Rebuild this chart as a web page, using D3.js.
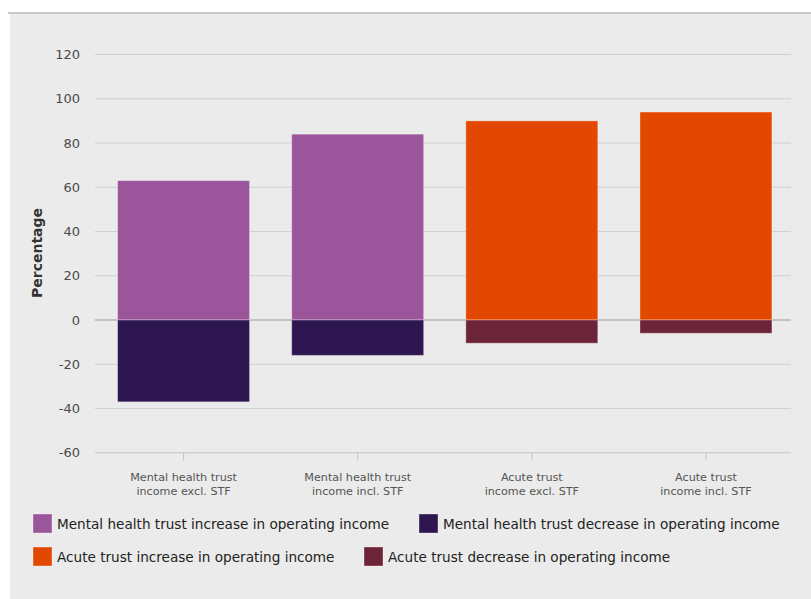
<!DOCTYPE html>
<html>
<head>
<meta charset="utf-8">
<script src="https://cdn.jsdelivr.net/npm/d3@7"></script>
<style>
  body { margin: 0; background: #fff; }
  svg { display: block; }
</style>
</head>
<body>
<svg width="811" height="599"></svg>
<script>
// categories (two-line labels)
var categories = ['Mental health trust|income excl. STF', 'Mental health trust|income incl. STF',
                  'Acute trust|income excl. STF', 'Acute trust|income incl. STF'];
var increase = [63, 84, 90, 94];
var decrease = [-37, -16, -10.5, -6];
var trustType = ['mh', 'mh', 'acute', 'acute'];
var yTicks = [-60, -40, -20, 0, 20, 40, 60, 80, 100, 120];
var legendLabels = ['Mental health trust increase in operating income',
                    'Mental health trust decrease in operating income',
                    'Acute trust increase in operating income',
                    'Acute trust decrease in operating income'];

var colors = { mh: { up: '#9b559b', down: '#2e1650' }, acute: { up: '#e34800', down: '#6c2438' } };
var legendColors = ['#9b559b', '#2e1650', '#e34800', '#6c2438'];

var svg = d3.select('svg');

// panel background + top rule
svg.append('rect').attr('x', 10).attr('y', 12).attr('width', 801).attr('height', 587).attr('fill', '#eaebea');
svg.append('rect').attr('x', 8).attr('y', 12).attr('width', 803).attr('height', 2).attr('fill', '#c9c9c9');

var plot = { left: 95, right: 791, top: 54.5, bottom: 452.75 };

// bars sit a touch right of the grid's centre in the original
var x = d3.scaleBand().domain(d3.range(categories.length)).range([96.5, 793]).paddingInner(0.242).paddingOuter(0.121);
var y = d3.scaleLinear().domain([-60, 120]).range([plot.bottom, plot.top]);

// grid
svg.append('g').selectAll('line').data(yTicks).enter().append('line')
  .attr('x1', plot.left).attr('x2', plot.right)
  .attr('y1', function (d) { return y(d); }).attr('y2', function (d) { return y(d); })
  .attr('stroke', function (d) { return d === 0 ? '#9a9a9a' : (d === -60 ? '#c4c5c4' : '#cfd0cf'); })
  .attr('stroke-width', 1);

// y axis labels
var yAxis = svg.append('g').attr('transform', 'translate(' + plot.left + ',0)')
  .call(d3.axisLeft(y).tickValues(yTicks).tickSize(0).tickPadding(15).tickFormat(function (d) { return String(d); }));
yAxis.select('.domain').remove();
yAxis.selectAll('text').attr('font-family', 'DejaVu Sans').attr('font-size', 13).attr('fill', '#4a4a4a');

svg.append('text')
  .attr('transform', 'translate(42,253) rotate(-90)')
  .attr('text-anchor', 'middle')
  .attr('font-family', 'DejaVu Sans').attr('font-weight', 'bold').attr('font-size', 14).attr('fill', '#333')
  .text('Percentage');

// bars
var bars = svg.append('g');
bars.selectAll('rect.up').data(increase).enter().append('rect').attr('class', 'up')
  .attr('x', function (d, i) { return x(i); }).attr('width', x.bandwidth())
  .attr('y', function (d) { return y(d); }).attr('height', function (d) { return y(0) - y(d); })
  .attr('fill', function (d, i) { return colors[trustType[i]].up; })
  .attr('stroke', 'rgba(255,255,255,0.35)').attr('stroke-width', 1);
bars.selectAll('rect.down').data(decrease).enter().append('rect').attr('class', 'down')
  .attr('x', function (d, i) { return x(i); }).attr('width', x.bandwidth())
  .attr('y', y(0)).attr('height', function (d) { return y(d) - y(0); })
  .attr('fill', function (d, i) { return colors[trustType[i]].down; })
  .attr('stroke', 'rgba(255,255,255,0.35)').attr('stroke-width', 1);

// x axis
var xAxis = svg.append('g').attr('transform', 'translate(0,' + plot.bottom + ')')
  .call(d3.axisBottom(x).tickSize(8).tickSizeOuter(0).tickFormat(function () { return ''; }));
xAxis.select('.domain').remove();
xAxis.selectAll('.tick line').attr('stroke', '#c4c5c4');
xAxis.selectAll('.tick').append('text')
  .attr('text-anchor', 'middle').attr('fill', '#555')
  .attr('font-family', 'DejaVu Sans').attr('font-size', 11.2)
  .each(function (d) {
    var parts = categories[d].split('|');
    var t = d3.select(this);
    t.append('tspan').attr('x', 0).attr('y', 28).text(parts[0]);
    t.append('tspan').attr('x', 0).attr('y', 42).text(parts[1]);
  });

// legend
var legendPos = [[33, 514], [419, 514], [33, 547], [364, 547]];
var lg = svg.append('g').selectAll('g').data(legendLabels).enter().append('g')
  .attr('transform', function (d, i) { return 'translate(' + legendPos[i][0] + ',' + legendPos[i][1] + ')'; });
lg.append('rect').attr('width', 19).attr('height', 19)
  .attr('fill', function (d, i) { return legendColors[i]; })
  .attr('stroke', 'rgba(255,255,255,0.35)');
lg.append('text').attr('x', 24).attr('y', 15)
  .attr('font-family', 'DejaVu Sans').attr('font-size', 13.6).attr('fill', '#222')
  .text(function (d) { return d; });
</script>
</body>
</html>
